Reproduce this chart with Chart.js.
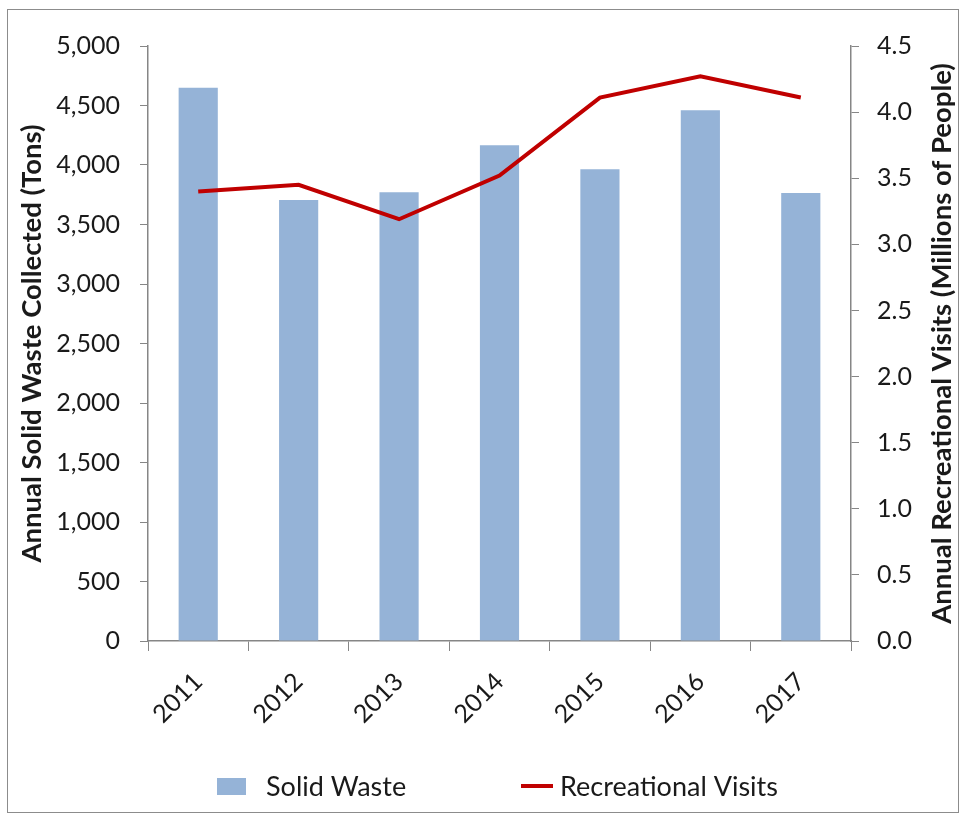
<!DOCTYPE html>
<html>
<head>
<meta charset="utf-8">
<script src="https://cdn.jsdelivr.net/npm/chart.js@4.4.1/dist/chart.umd.min.js"></script>
<style>
  html, body { margin: 0; padding: 0; background: #fff; }
  #wrap { position: relative; width: 961px; height: 815px; }
  #frame { position: absolute; left: 7px; top: 9px; width: 950px; height: 802px; border: 1px solid #8c8c8c; pointer-events: none; }
</style>
</head>
<body>
<div id="wrap">
  <canvas id="chWaste" width="961" height="815"></canvas>
  <div id="frame"></div>
</div>
<script>
// values
const years = ['2011', '2012', '2013', '2014', '2015', '2016', '2017'];
const solidWaste = [4650, 3705, 3770, 4165, 3965, 4460, 3765];       // tons
const recVisits = [3.40, 3.45, 3.19, 3.52, 4.11, 4.27, 4.11];        // millions of people
const rightTitle = 'Annual Recreational Visits (Millions of People)';

const AXIS_GREY = '#868686';
const TXT = '#1a1a1a';
Chart.defaults.font.family = 'Lato';
Chart.defaults.color = TXT;

// legend + right-axis title drawn by hand: Excel-style spacing and the
// right title reads bottom-to-top like the left one
const extras = {
  id: 'extras',
  afterDraw(chart, args, opts) {
    const ctx = chart.ctx;
    const y = opts.legendY;
    ctx.save();
    ctx.font = opts.legendSize + 'px Lato';
    ctx.textBaseline = 'middle';
    chart.data.datasets.forEach((ds, i) => {
      const x = opts.legendXs[i];
      if (ds.type === 'line') {
        ctx.strokeStyle = ds.borderColor;
        ctx.lineWidth = ds.borderWidth;
        ctx.beginPath();
        ctx.moveTo(x, y);
        ctx.lineTo(x + 32, y);
        ctx.stroke();
        ctx.fillStyle = TXT;
        ctx.fillText(ds.label, x + 39, y + 1);
      } else {
        ctx.fillStyle = ds.backgroundColor;
        ctx.fillRect(x, y - 8, 29, 17);
        ctx.fillStyle = TXT;
        ctx.fillText(ds.label, x + 49, y + 1);
      }
    });
    ctx.restore();

    const ca = chart.chartArea;
    ctx.save();
    ctx.translate(opts.rightTitleX, (ca.top + ca.bottom) / 2);
    ctx.rotate(-Math.PI / 2);
    ctx.font = 'bold ' + opts.titleSize + 'px Lato';
    ctx.textAlign = 'center';
    ctx.textBaseline = 'middle';
    ctx.fillStyle = TXT;
    ctx.fillText(rightTitle, 0, 0);
    ctx.restore();
  }
};

new Chart(document.getElementById('chWaste'), {
  type: 'bar',
  data: {
    labels: years,
    datasets: [
      { type: 'bar', label: 'Solid Waste', data: solidWaste, yAxisID: 'y',
        backgroundColor: '#95b3d7', borderWidth: 0,
        barPercentage: 0.39, categoryPercentage: 1, order: 1 },
      { type: 'line', label: 'Recreational Visits', data: recVisits, yAxisID: 'y1',
        borderColor: '#c00000', backgroundColor: '#c00000', borderWidth: 4,
        pointRadius: 0, tension: 0, fill: false, order: 0 }
    ]
  },
  options: {
    responsive: false,
    animation: false,
    layout: { padding: { top: 46, left: 0, right: 0, bottom: 0 } },
    plugins: {
      legend: { display: false },
      tooltip: { enabled: false },
      extras: { legendXs: [217, 521], legendY: 786, legendSize: 27, rightTitleX: 942, titleSize: 27.5 }
    },
    scales: {
      x: {
        afterFit: s => { s.height = 174; },
        grid: { offset: true, drawOnChartArea: false, drawTicks: true, tickLength: 10, color: AXIS_GREY },
        border: { color: AXIS_GREY, width: 1.5 },
        ticks: { font: { size: 25 }, color: TXT, maxRotation: 45, minRotation: 45, padding: 16 }
      },
      y: {
        position: 'left', min: 0, max: 5000,
        afterFit: s => { s.width = 148; },
        grid: { drawOnChartArea: false, drawTicks: true, tickLength: 8, color: AXIS_GREY },
        border: { color: AXIS_GREY, width: 1.5 },
        ticks: { stepSize: 500, font: { size: 25 }, color: TXT, padding: 20,
          callback: v => v.toLocaleString('en-US') },
        title: { display: true, text: 'Annual Solid Waste Collected (Tons)',
          font: { size: 27.5, weight: 'bold' }, color: TXT, padding: { top: 16, bottom: 0 } }
      },
      y1: {
        position: 'right', min: 0, max: 4.5,
        afterFit: s => { s.width = 110; },
        grid: { drawOnChartArea: false, drawTicks: true, tickLength: 8, color: AXIS_GREY },
        border: { color: AXIS_GREY, width: 1.5 },
        ticks: { stepSize: 0.5, font: { size: 25 }, color: TXT, padding: 18,
          callback: v => v.toFixed(1) }
      }
    }
  },
  plugins: [extras]
});
</script>
</body>
</html>
